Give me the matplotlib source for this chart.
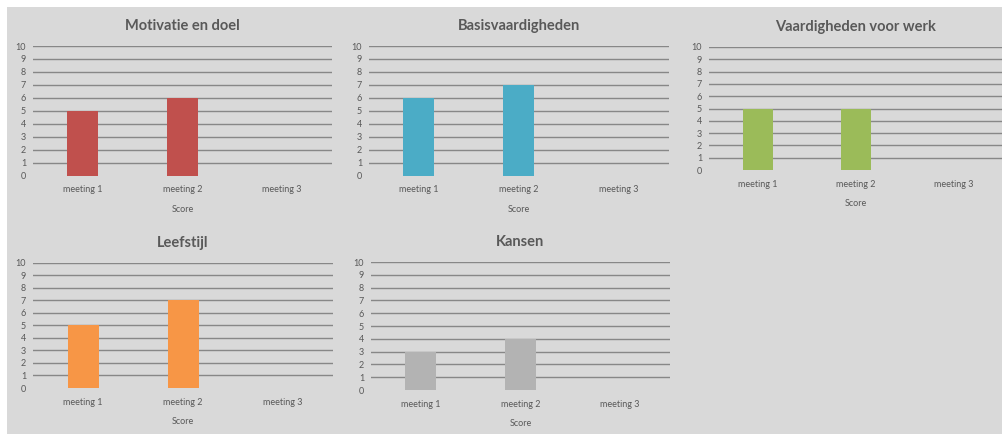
import matplotlib
matplotlib.use('Agg')
import matplotlib.pyplot as plt
import matplotlib.patches as mpatches

plt.rcParams['font.family'] = ['Lato', 'DejaVu Sans']

meetings = ['meeting 1', 'meeting 2', 'meeting 3']
titles = ['Motivatie en doel', 'Basisvaardigheden', 'Vaardigheden voor werk', 'Leefstijl', 'Kansen']
motivatie = [5, 6, 0]
basis = [6, 7, 0]
werk = [5, 5, 0]
leefstijl = [5, 7, 0]
kansen = [3, 4, 0]
colors = ['#c0504d', '#4bacc6', '#9bbb59', '#f79646', '#b3b3b3']
yticks = list(range(0, 11))

W, H = 1003, 434
# pixel boxes of the plot areas: left, right, y of 10, y of 0
boxes = [(33, 332, 46, 175.5),
         (369, 669, 46, 175.5),
         (709, 1003, 47, 170),
         (33, 333, 262.5, 388),
         (371, 670, 262, 390)]

fig = plt.figure(figsize=(W / 100, H / 100), dpi=100, facecolor='white')
fig.patches.append(mpatches.Rectangle((7 / W, 0), 1 - 8 / W, 1 - 7 / H, transform=fig.transFigure,
                                      facecolor='#d9d9d9', edgecolor='none', zorder=-10))

series = [motivatie, basis, werk, leefstijl, kansen]
for i, vals in enumerate(series):
    l, r, top, bot = boxes[i]
    ax = fig.add_axes([l / W, 1 - bot / H, (r - l) / W, (bot - top) / H])
    ax.set_facecolor('none')
    for y in yticks[1:]:
        ax.axhline(y, color='#878787', lw=1.0, zorder=1)
    ax.bar(range(3), vals, width=0.31, color=colors[i], zorder=2)
    ax.set_xlim(-0.5, 2.5)
    ax.set_ylim(0, 10)
    ax.set_yticks(yticks)
    ax.set_xticks(range(3))
    ax.set_xticklabels(meetings)
    ax.tick_params(axis='both', length=0, labelsize=6.5, labelcolor='#595959')
    ax.tick_params(axis='y', pad=5)
    ax.tick_params(axis='x', pad=7)
    for s in ax.spines.values():
        s.set_visible(False)
    ax.set_xlabel('Score', fontsize=6.5, color='#595959', labelpad=7.5)
    ax.set_title(titles[i], fontsize=10.5, fontweight='bold', color='#595959', pad=11.5)

fig.savefig('out.png', dpi=100, facecolor='white')
